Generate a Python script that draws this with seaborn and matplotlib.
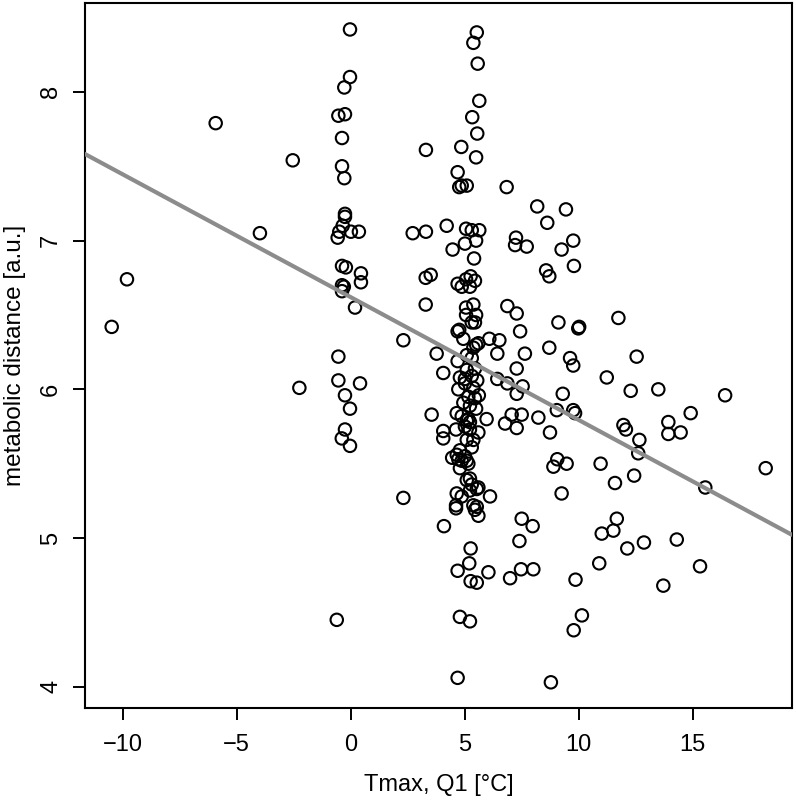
import pandas as pd
import seaborn as sns
import matplotlib.pyplot as plt

# values (x = Tmax Q1 in °C, y = metabolic distance)
tmax = [
    # outliers on the left
    -10.48, -9.81, -5.92, -3.98, -2.54, -2.25,
    # column around 0
    -0.03, -0.03, -0.28, -0.54, -0.25, -0.38, -0.38, -0.28, -0.25, -0.25,
    -0.35, -0.50, -0.57, 0.01, 0.36, -0.38, -0.21, 0.45, 0.45, -0.38,
    -0.30, -0.38, 0.19, -0.54, -0.54, 0.41, -0.25, -0.03, -0.25, -0.39,
    -0.03, -0.61,
    # between 2 and 4.5
    2.31, 2.31, 2.72, 3.30, 3.30, 3.29, 3.51, 3.29, 3.55, 3.77,
    4.06, 4.06, 4.06, 4.09, 4.21, 4.47, 4.45,
    # column around 5
    5.53, 5.38, 5.57, 5.64, 5.33, 5.55, 4.85, 5.50, 4.69, 4.76,
    4.87, 5.09, 5.06, 5.31, 5.64, 5.50, 5.01, 5.41, 4.69, 4.87,
    5.06, 5.26, 5.45, 5.23, 5.06, 5.38, 5.50, 5.06, 5.31, 5.45,
    4.69, 4.76, 4.94, 5.50, 5.38, 5.60, 5.09, 4.69, 5.31, 5.09,
    5.45, 5.01, 5.31, 4.79, 5.55, 4.72, 5.01, 5.38, 5.62, 5.16,
    5.45, 4.94, 5.23, 5.50, 4.65, 4.87, 5.16, 5.09, 5.23, 5.96,
    4.62, 5.01, 5.23, 5.60, 5.09, 5.38, 5.31, 4.79, 4.65, 4.87,
    5.09, 5.01, 5.16, 4.72, 4.79, 5.09, 5.23, 5.31, 5.60, 5.23,
    5.53, 4.65, 4.87, 4.62, 4.62, 5.38, 5.53, 5.45, 5.60, 5.26,
    5.20, 4.69, 5.26, 5.53, 4.79, 5.23, 4.69,
    # right part
    6.84, 8.18, 9.44, 8.62, 7.25, 7.21, 7.72, 9.76, 9.25, 9.79,
    8.57, 8.71, 6.87, 7.28, 9.11, 9.98, 10.02, 11.74, 7.43, 6.08,
    6.52, 6.43, 7.64, 8.71, 12.54, 7.28, 9.62, 9.76, 6.43, 6.87,
    7.54, 11.23, 9.30, 12.28, 13.49, 16.42, 7.28, 6.77, 7.06, 7.50,
    7.28, 8.23, 8.74, 9.04, 9.76, 9.84, 11.96, 12.07, 12.66, 12.61,
    13.93, 13.93, 14.47, 14.91, 18.20, 15.55, 9.06, 8.89, 9.47, 10.96,
    11.59, 12.43, 9.25, 6.11, 7.50, 7.98, 7.40, 11.67, 11.52, 11.01,
    12.13, 12.86, 14.30, 10.90, 13.71, 15.32, 6.04, 6.99, 7.47, 8.01,
    9.86, 10.14, 9.78, 8.78,
]
dist = [
    6.42, 6.74, 7.79, 7.05, 7.54, 6.01,
    8.42, 8.10, 8.03, 7.84, 7.85, 7.69, 7.50, 7.42, 7.18, 7.16,
    7.10, 7.06, 7.02, 7.06, 7.06, 6.83, 6.82, 6.78, 6.72, 6.70,
    6.69, 6.66, 6.55, 6.22, 6.06, 6.04, 5.96, 5.87, 5.73, 5.67,
    5.62, 4.45,
    6.33, 5.27, 7.05, 7.61, 7.06, 6.75, 6.77, 6.57, 5.83, 6.24,
    6.11, 5.72, 5.67, 5.08, 7.10, 6.94, 5.54,
    8.40, 8.33, 8.19, 7.94, 7.83, 7.72, 7.63, 7.56, 7.46, 7.36,
    7.37, 7.37, 7.08, 7.07, 7.07, 7.00, 6.98, 6.88, 6.71, 6.69,
    6.74, 6.76, 6.73, 6.69, 6.55, 6.57, 6.50, 6.50, 6.45, 6.45,
    6.39, 6.40, 6.34, 6.30, 6.28, 6.31, 6.23, 6.19, 6.21, 6.13,
    6.14, 6.07, 6.09, 6.08, 6.06, 6.00, 6.04, 6.01, 5.96, 5.95,
    5.94, 5.91, 5.89, 5.87, 5.84, 5.82, 5.80, 5.79, 5.78, 5.80,
    5.73, 5.75, 5.73, 5.71, 5.66, 5.66, 5.61, 5.59, 5.56, 5.52,
    5.52, 5.55, 5.50, 5.53, 5.47, 5.39, 5.40, 5.36, 5.34, 5.32,
    5.33, 5.30, 5.28, 5.22, 5.20, 5.22, 5.21, 5.19, 5.15, 4.93,
    4.83, 4.78, 4.71, 4.70, 4.47, 4.44, 4.06,
    7.36, 7.23, 7.21, 7.12, 7.02, 6.97, 6.96, 7.00, 6.94, 6.83,
    6.80, 6.76, 6.56, 6.51, 6.45, 6.41, 6.42, 6.48, 6.39, 6.34,
    6.33, 6.24, 6.24, 6.28, 6.22, 6.14, 6.21, 6.16, 6.07, 6.04,
    6.02, 6.08, 5.97, 5.99, 6.00, 5.96, 5.97, 5.77, 5.83, 5.83,
    5.74, 5.81, 5.71, 5.86, 5.86, 5.84, 5.76, 5.73, 5.66, 5.57,
    5.78, 5.70, 5.71, 5.84, 5.47, 5.34, 5.53, 5.48, 5.50, 5.50,
    5.37, 5.42, 5.30, 5.28, 5.13, 5.08, 4.98, 5.13, 5.05, 5.03,
    4.93, 4.97, 4.99, 4.83, 4.68, 4.81, 4.77, 4.73, 4.79, 4.79,
    4.72, 4.48, 4.38, 4.03,
]

# linear fit shown as the grey line
fit_intercept = 6.62
fit_slope = -0.0826

xticks = [-10, -5, 0, 5, 10, 15]
yticks = [4, 5, 6, 7, 8]

df = pd.DataFrame({"tmax": tmax, "dist": dist})

sns.set_style("white")
plt.rcParams["font.family"] = ["Liberation Sans", "DejaVu Sans"]
plt.rcParams["text.color"] = "black"
plt.rcParams["axes.labelcolor"] = "black"

fig = plt.figure(figsize=(7.96, 8.01), dpi=100)
ax = fig.add_axes([0.1068, 0.1157, 0.8878, 0.8802])

sns.scatterplot(data=df, x="tmax", y="dist", ax=ax, s=80, marker="o",
                facecolors="none", edgecolor="black", linewidth=1.5, zorder=2)
ax.axline((0, fit_intercept), slope=fit_slope, color="#8c8c8c", lw=3.0, zorder=3)

ax.set_xlim(-11.65, 19.34)
ax.set_ylim(3.855, 8.596)
ax.set_xticks(xticks)
ax.set_yticks(yticks)
ax.set_xticklabels([str(t).replace("-", "\u2212") for t in xticks])
ax.set_yticklabels([str(t) for t in yticks], rotation=90, va="center")

ax.tick_params(axis="both", direction="out", length=8.5, width=1.4,
               colors="black", labelcolor="black", labelsize=17,
               left=True, bottom=True)
ax.tick_params(axis="x", pad=10)
ax.tick_params(axis="y", pad=8)

for s in ax.spines.values():
    s.set_visible(True)
    s.set_color("black")
    s.set_linewidth(1.5)

ax.set_xlabel("Tmax, Q1 [°C]", fontsize=17, labelpad=13)
ax.set_ylabel("metabolic distance [a.u.]", fontsize=17.5)
ax.yaxis.set_label_coords(-0.083, 0.5)

fig.savefig("out.png", dpi=100)
